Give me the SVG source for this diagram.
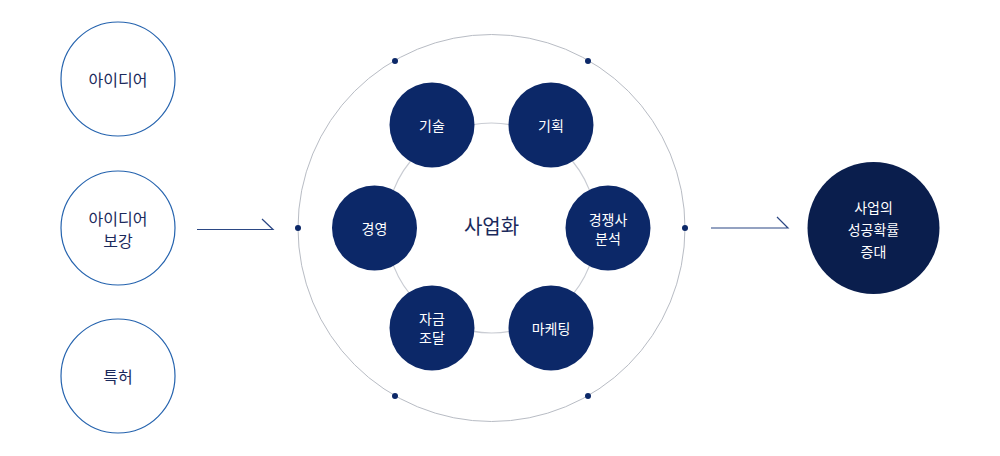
<svg xmlns="http://www.w3.org/2000/svg" width="1000" height="456" viewBox="0 0 1000 456">
<style>
text{font-family:"Noto Sans CJK KR","Noto Sans",sans-serif;text-anchor:middle;dominant-baseline:central}
.in{fill:#fff;stroke:#2563ae;stroke-width:1.2}
.inT{fill:#1b2a5c;font-size:16px}
.sm{fill:#0c2868}
.smT{fill:#fff;font-size:14px}
.dot{fill:#0c2868}
.arr{fill:none;stroke:#2b4784;stroke-width:1.2}
</style>
<rect width="1000" height="456" fill="#fff"/>
<g id="idea"><circle class="in" cx="118" cy="79" r="57"/><text class="inT" x="118" y="79">아이디어</text></g>
<g id="idea-sup"><circle class="in" cx="118" cy="228" r="57"/><text class="inT" x="118" y="218">아이디어</text><text class="inT" x="118" y="240">보강</text></g>
<g id="patent"><circle class="in" cx="118" cy="376" r="57"/><text class="inT" x="118" y="376">특허</text></g>
<g id="connectors">
<path class="arr" d="M197 229.5H273L262 219"/>
<path class="arr" d="M711 228H788L777 217"/>
</g>
<g id="commercialization">
<circle cx="491.5" cy="228" r="193.5" fill="none" stroke="#b8bcc4" stroke-width="1"/>
<circle cx="491.5" cy="228" r="105" fill="none" stroke="#c9ccd3" stroke-width="1.2"/>
<circle class="dot" cx="298" cy="228" r="3"/>
<circle class="dot" cx="685" cy="228" r="3"/>
<circle class="dot" cx="395" cy="61" r="3"/>
<circle class="dot" cx="588" cy="61" r="3"/>
<circle class="dot" cx="395" cy="396" r="3"/>
<circle class="dot" cx="588" cy="396" r="3"/>
<text x="491.5" y="225" fill="#1b2a5c" font-size="20">사업화</text>
</g>
<g id="tech"><circle class="sm" cx="432" cy="125" r="42.5"/><text class="smT" x="432" y="125">기술</text></g>
<g id="plan"><circle class="sm" cx="551" cy="125" r="42.5"/><text class="smT" x="551" y="125">기획</text></g>
<g id="mgmt"><circle class="sm" cx="374.5" cy="228" r="42.5"/><text class="smT" x="374.5" y="228">경영</text></g>
<g id="comp"><circle class="sm" cx="608" cy="228" r="42.5"/><text class="smT" x="608" y="219">경쟁사</text><text class="smT" x="608" y="238">분석</text></g>
<g id="fund"><circle class="sm" cx="432" cy="328" r="42.5"/><text class="smT" x="432" y="318">자금</text><text class="smT" x="432" y="337">조달</text></g>
<g id="mkt"><circle class="sm" cx="551" cy="328" r="42.5"/><text class="smT" x="551" y="328">마케팅</text></g>
<g id="result"><circle cx="873.5" cy="228" r="66" fill="#0a1e4d"/>
<text class="smT" x="873.5" y="207" font-size="15">사업의</text>
<text class="smT" x="873.5" y="229" font-size="15">성공확률</text>
<text class="smT" x="873.5" y="251" font-size="15">증대</text></g>
</svg>
